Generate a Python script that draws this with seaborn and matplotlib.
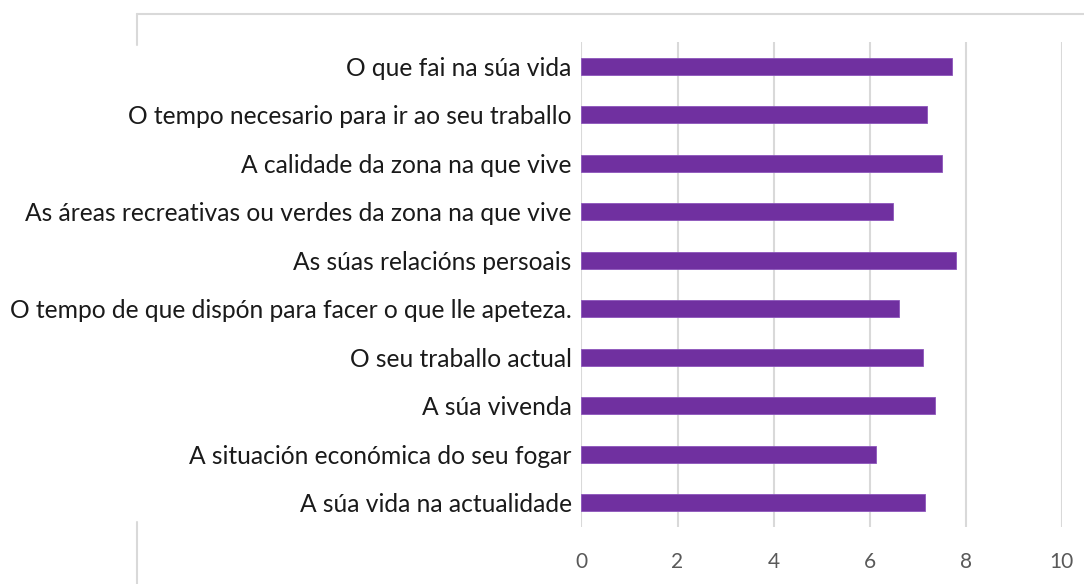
import seaborn as sns
import matplotlib.pyplot as plt
from matplotlib.lines import Line2D

# Survey items (top to bottom) and average scores
items = [
    "O que fai na súa vida",
    "O tempo necesario para ir ao seu traballo",
    "A calidade da zona na que vive",
    "As áreas recreativas ou verdes da zona na que vive",
    "As súas relacións persoais",
    "O tempo de que dispón para facer o que lle apeteza.",
    "O seu traballo actual",
    "A súa vivenda",
    "A situación económica do seu fogar",
    "A súa vida na actualidade",
]
scores = [7.72, 7.20, 7.50, 6.48, 7.79, 6.61, 7.11, 7.36, 6.13, 7.15]
xticks = [0, 2, 4, 6, 8, 10]

sns.set_theme(style="white")
plt.rcParams['font.family'] = ['Lato', 'DejaVu Sans']

fig = plt.figure(figsize=(10.84, 5.84), dpi=100)
ax = fig.add_axes([0.5364, 0.0976, 0.443, 0.8305])

sns.barplot(x=scores, y=items, orient='h', color='#7030A0', width=0.35,
            edgecolor='#8c55bb', linewidth=0.6, saturation=1, ax=ax, zorder=3)

ax.set_xlim(0, 10)
ax.set_ylim(9.5, -0.5)
ax.set_xticks(xticks)
ax.set_xticklabels([str(t) for t in xticks])
ax.xaxis.grid(True, color='#d9d9d9', linewidth=1.5, zorder=0)
ax.set_axisbelow(True)
for s in ax.spines.values():
    s.set_visible(False)
ax.tick_params(axis='x', length=0, pad=18, labelsize=15, labelcolor='#595959')
ax.tick_params(axis='y', length=0, pad=7, labelsize=17.7, labelcolor='#1a1a1a')
ax.set_xlabel('')
ax.set_ylabel('')

# chart-area border fragments
bc = '#d9d9d9'
fig.add_artist(Line2D([137 / 1084, 1.0], [1 - 14 / 584, 1 - 14 / 584],
                      color=bc, linewidth=1.5, transform=fig.transFigure))
fig.add_artist(Line2D([137 / 1084, 137 / 1084], [1 - 14 / 584, 1 - 45 / 584],
                      color=bc, linewidth=1.5, transform=fig.transFigure))
fig.add_artist(Line2D([137 / 1084, 137 / 1084], [1 - 522 / 584, 0.0],
                      color=bc, linewidth=1.5, transform=fig.transFigure))

plt.savefig('out.png', dpi=100)
plt.close()
